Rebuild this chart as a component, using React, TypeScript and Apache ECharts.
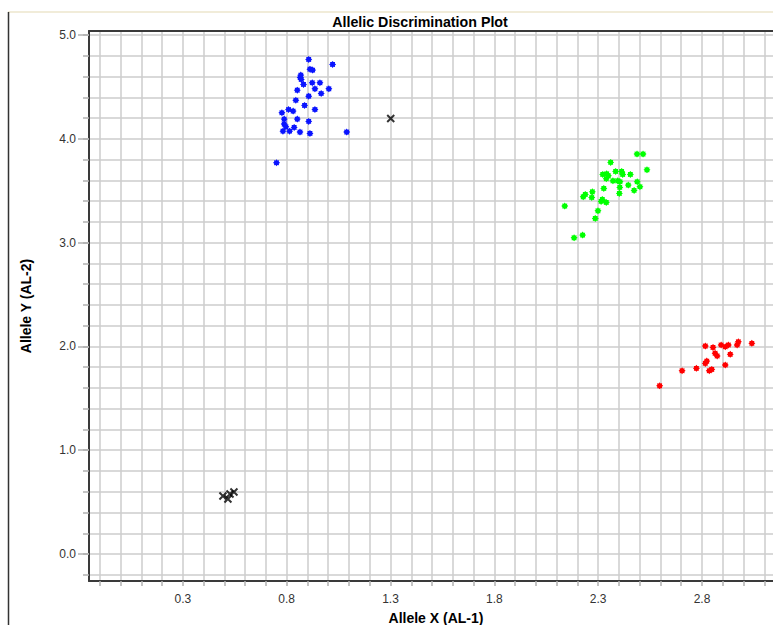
import React, { useEffect, useRef } from "react";
import * as echarts from "echarts";

// ---- data ----
const blueX = [0.906, 1.021, 0.912, 0.925, 0.868, 0.865, 0.870, 0.881, 0.923, 0.960, 0.851, 0.936, 1.003, 0.966, 0.906, 0.844, 0.886, 0.936, 0.777, 0.809, 0.831, 0.851, 0.788, 0.906, 0.788, 0.796, 0.836, 0.782, 0.814, 0.864, 0.912, 1.089, 0.751];
const blueY = [4.766, 4.718, 4.672, 4.663, 4.615, 4.592, 4.573, 4.525, 4.541, 4.541, 4.470, 4.483, 4.483, 4.438, 4.412, 4.373, 4.323, 4.284, 4.252, 4.284, 4.268, 4.191, 4.191, 4.169, 4.143, 4.117, 4.111, 4.075, 4.075, 4.066, 4.053, 4.066, 3.770];

const greenX = [2.487, 2.516, 2.360, 2.535, 2.322, 2.341, 2.349, 2.384, 2.413, 2.418, 2.455, 2.339, 2.371, 2.394, 2.405, 2.488, 2.445, 2.501, 2.327, 2.404, 2.473, 2.272, 2.402, 2.238, 2.228, 2.269, 2.320, 2.339, 2.314, 2.139, 2.299, 2.286, 2.225, 2.184];
const greenY = [3.854, 3.854, 3.774, 3.702, 3.658, 3.664, 3.645, 3.687, 3.687, 3.658, 3.658, 3.616, 3.596, 3.596, 3.587, 3.587, 3.555, 3.539, 3.523, 3.533, 3.504, 3.490, 3.475, 3.465, 3.442, 3.436, 3.417, 3.388, 3.398, 3.353, 3.307, 3.234, 3.073, 3.047];

const redX = [2.816, 2.853, 2.892, 2.912, 2.927, 2.975, 2.969, 3.040, 2.863, 2.873, 2.936, 2.823, 2.816, 2.912, 2.704, 2.773, 2.835, 2.847, 2.596];
const redY = [2.004, 1.991, 2.014, 1.997, 2.014, 2.045, 2.014, 2.030, 1.934, 1.908, 1.924, 1.859, 1.837, 1.821, 1.766, 1.789, 1.766, 1.779, 1.621];

const blackX = [1.301, 0.493, 0.517, 0.527, 0.546];
const blackY = [4.197, 0.559, 0.530, 0.578, 0.597];

const xTickLabels = [0.3, 0.8, 1.3, 1.8, 2.3, 2.8];
const yTickLabels = [0, 1, 2, 3, 4, 5];

const TITLE = "Allelic Discrimination Plot";
const X_NAME = "Allele X (AL-1)";
const Y_NAME = "Allele Y (AL-2)";

const X_MIN = -0.152;
const X_MAX = 3.19;
const Y_MIN = -0.26;
const Y_MAX = 5.04;

const FONT = "'Liberation Sans Narrow', 'Liberation Sans', Arial, sans-serif";

function zip(xs: number[], ys: number[]) {
  return xs.map((x, i) => [x, ys[i]]);
}

function starPath(n: number, r1: number, r2: number) {
  let d = "";
  for (let i = 0; i < 2 * n; i++) {
    const a = (Math.PI * i) / n;
    const r = i % 2 ? r2 : r1;
    const x = 10 + r * Math.sin(a);
    const y = 10 - r * Math.cos(a);
    d += (i ? "L" : "M") + x.toFixed(2) + "," + y.toFixed(2);
  }
  return "path://" + d + "Z";
}

const STAR = starPath(8, 10, 7.2);
const CROSS = "path://M0,0L10,10M10,0L0,10";

// grid positions every 0.1 on x, every 0.2 on y
const xGrid: number[] = [];
for (let i = -1; i <= 31; i++) xGrid.push(Math.round(i * 10) / 100);
const yGrid: number[] = [];
for (let i = -1; i <= 25; i++) yGrid.push(Math.round(i * 20) / 100);

export default function App() {
  const ref = useRef<HTMLDivElement>(null);
  useEffect(() => {
    if (!ref.current) return;
    const chart = echarts.init(ref.current, undefined, { renderer: "svg" });
    const gridLine = { color: "#cccccc", width: 1.5 };
    const darkLine = { color: "#3a3a3a", width: 2 };
    const starSeries = (data: number[][], color: string) => ({
      type: "scatter",
      data,
      symbol: STAR,
      symbolSize: 7,
      itemStyle: { color, opacity: 1 },
      xAxisIndex: 0,
      yAxisIndex: 0,
    });
    chart.setOption({
      animation: false,
      backgroundColor: "#ffffff",
      grid: { left: 89, right: -10, top: 31, bottom: 44, containLabel: false, outerBoundsMode: "none" },
      graphic: [
        {
          type: "line",
          shape: { x1: 8, y1: 12, x2: 773, y2: 12 },
          style: { stroke: "#ece6cc", lineWidth: 1.5 },
        },
        {
          type: "line",
          shape: { x1: 8.5, y1: 12, x2: 8.5, y2: 625 },
          style: { stroke: "#333333", lineWidth: 1.5 },
        },
        {
          type: "text",
          x: 420,
          y: 22,
          scaleX: 0.95,
          style: {
            text: TITLE,
            fill: "#000",
            font: `bold 15px ${FONT}`,
            textAlign: "center",
            textVerticalAlign: "middle",
          },
        },
      ],
      xAxis: [
        {
          type: "value",
          min: X_MIN,
          max: X_MAX,
          position: "bottom",
          name: X_NAME,
          nameLocation: "middle",
          nameGap: 30,
          nameTextStyle: { fontFamily: FONT, fontWeight: "bold", fontSize: 14, color: "#000" },
          axisLine: { show: true, onZero: false, lineStyle: darkLine },
          axisTick: { show: true, customValues: xGrid, length: 5, lineStyle: { color: "#b0b0b0", width: 1.5 } },
          axisLabel: {
            customValues: xTickLabels,
            formatter: (v: number) => v.toFixed(1),
            margin: 12,
            fontFamily: FONT,
            fontSize: 12,
            color: "#333",
          },
          splitLine: { show: true, lineStyle: gridLine },
        },
        {
          type: "value",
          min: X_MIN,
          max: X_MAX,
          position: "top",
          axisLine: { show: true, onZero: false, lineStyle: darkLine },
          axisTick: { show: false },
          axisLabel: { show: false },
          splitLine: { show: false },
        },
      ],
      yAxis: [
        {
          type: "value",
          min: Y_MIN,
          max: Y_MAX,
          position: "left",
          axisLine: { show: true, onZero: false, lineStyle: darkLine },
          axisTick: { show: true, customValues: yGrid, length: 6, lineStyle: { color: "#b0b0b0", width: 1.5 } },
          axisLabel: { show: false },
          splitLine: { show: true, lineStyle: gridLine },
        },
        {
          type: "value",
          min: Y_MIN,
          max: Y_MAX,
          position: "left",
          name: Y_NAME,
          nameLocation: "middle",
          nameGap: 56,
          nameRotate: 90,
          nameTextStyle: { fontFamily: FONT, fontWeight: "bold", fontSize: 14, color: "#000" },
          axisLine: { show: false, onZero: false },
          axisTick: { show: true, customValues: yTickLabels, length: 11, lineStyle: { color: "#b0b0b0", width: 1.5 } },
          axisLabel: {
            customValues: yTickLabels,
            formatter: (v: number) => v.toFixed(1),
            margin: 13,
            fontFamily: FONT,
            fontSize: 12,
            color: "#333",
          },
          splitLine: { show: false },
        },
      ],
      series: [
        starSeries(zip(blueX, blueY), "#0a14ff"),
        starSeries(zip(greenX, greenY), "#00ff00"),
        starSeries(zip(redX, redY), "#ff0000"),
        {
          type: "scatter",
          data: zip(blackX, blackY),
          symbol: CROSS,
          symbolSize: 7,
          itemStyle: { color: "none", borderColor: "#000", borderWidth: 2 },
          xAxisIndex: 0,
          yAxisIndex: 0,
        },
      ],
    });
    return () => chart.dispose();
  }, []);
  return (
    <div
      ref={ref}
      style={{ position: "fixed", left: 0, top: 0, width: 773, height: 625, background: "#fff" }}
    />
  );
}
